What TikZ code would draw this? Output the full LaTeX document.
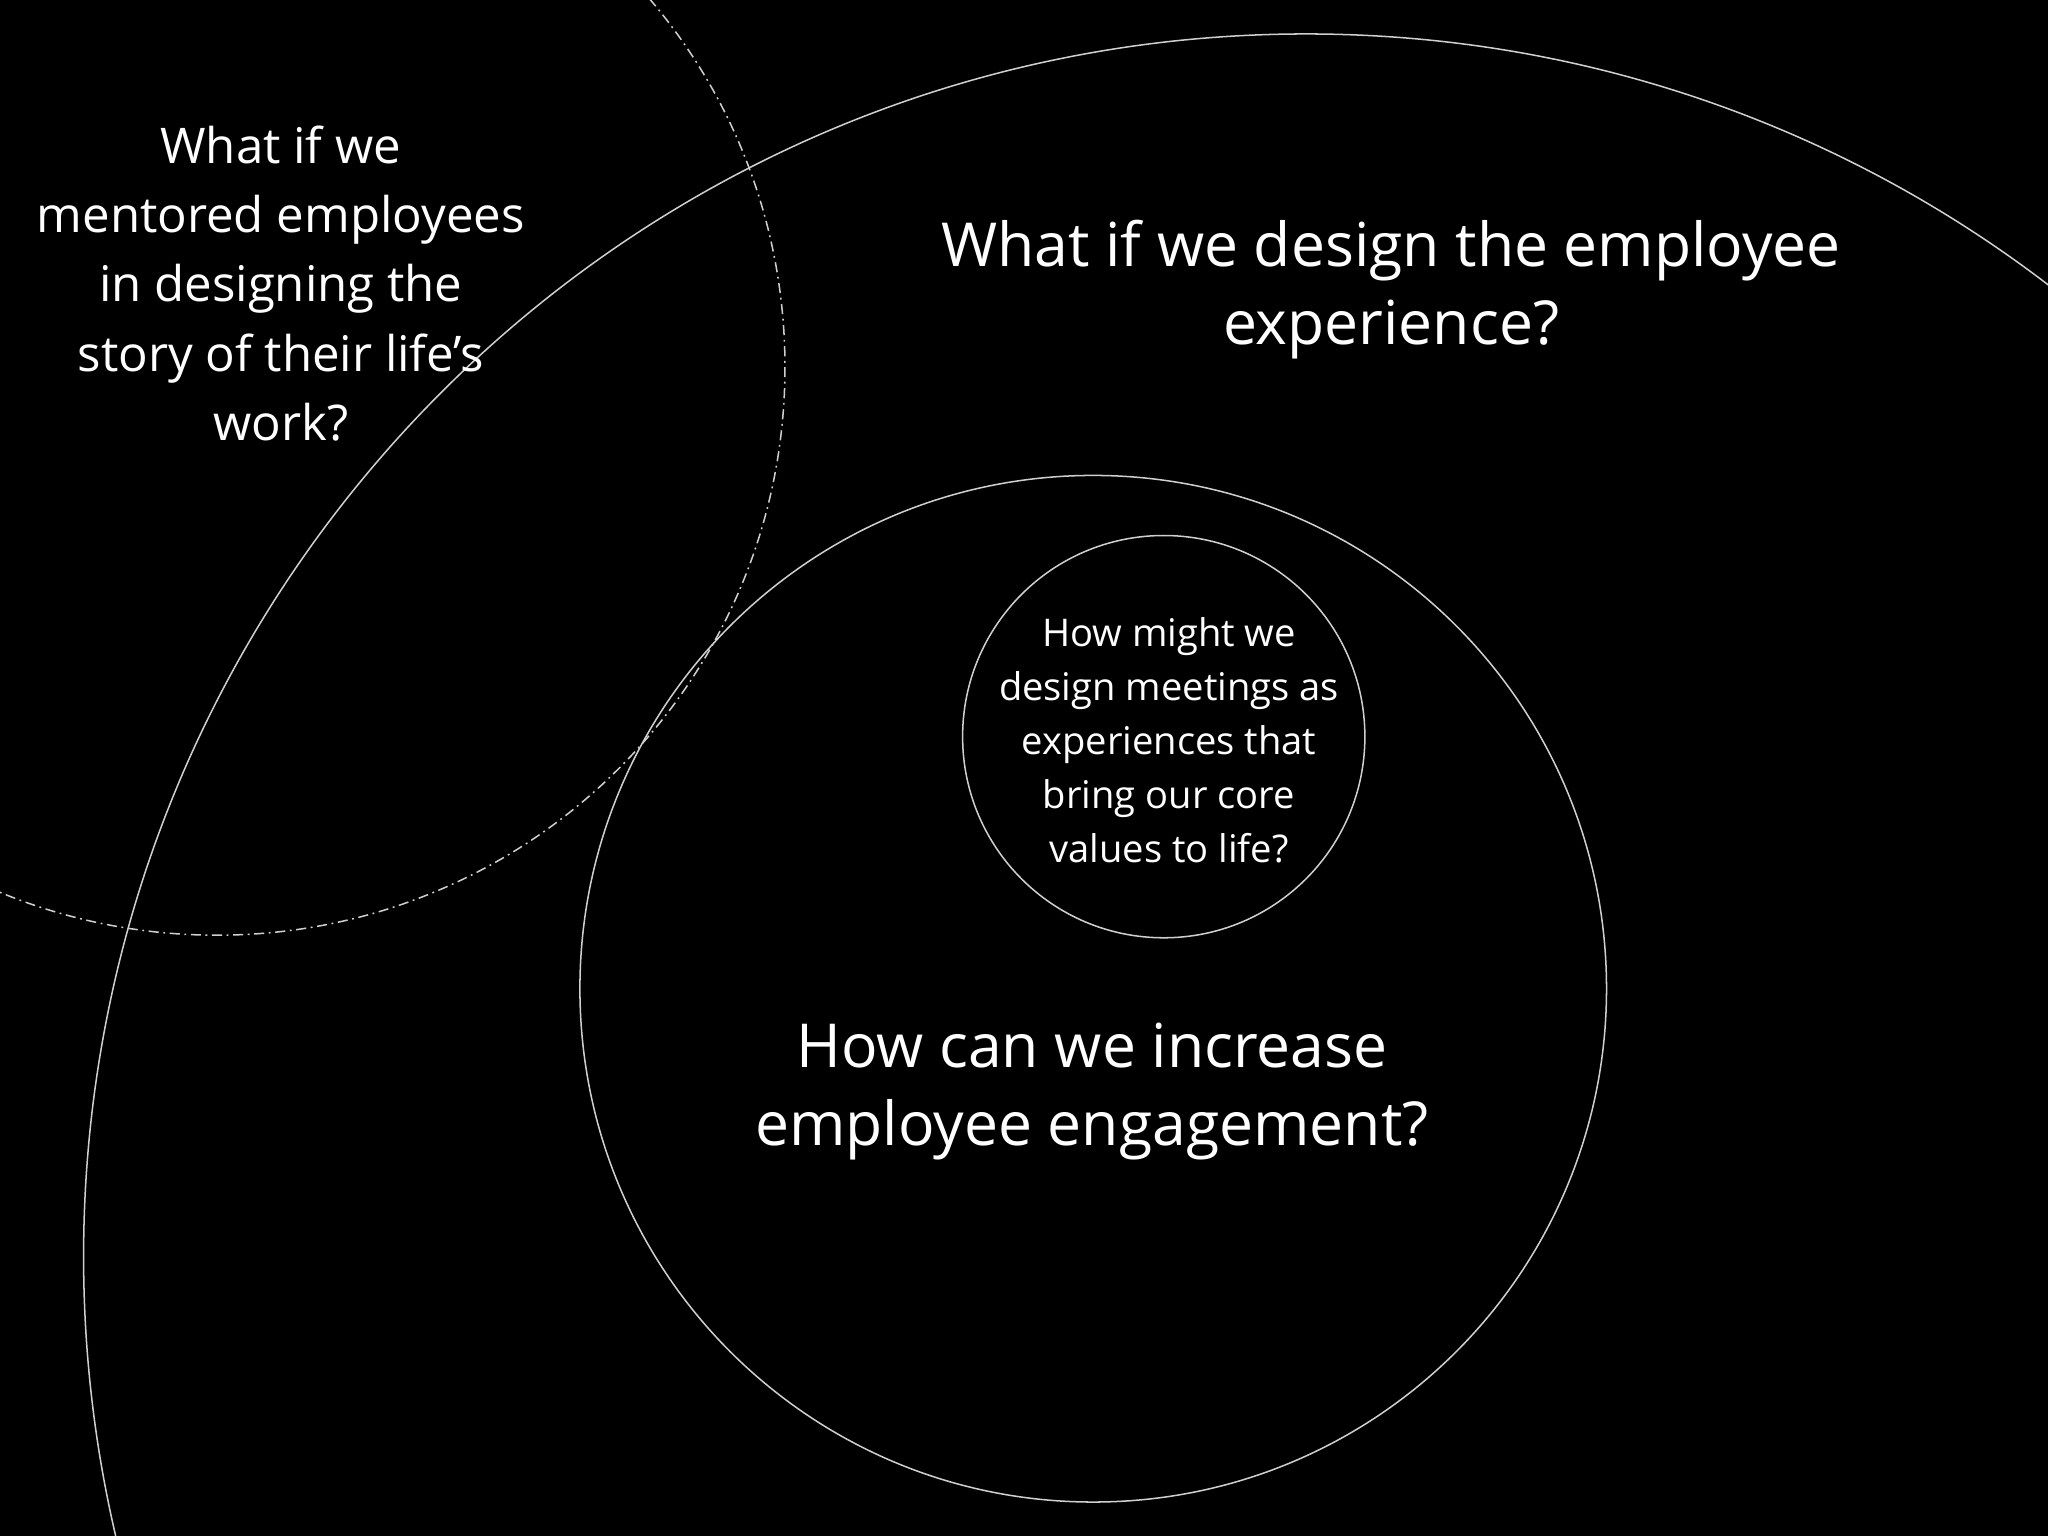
\documentclass[tikz,border=0pt]{standalone}
\usepackage{fontspec}
\setmainfont{Open Sans}
\usepackage{tikz}
\usetikzlibrary{positioning}
\definecolor{ringgrey}{HTML}{CFCFCF}

\begin{document}
\begin{tikzpicture}[
  x=0.01cm, y=-0.01cm,
  ring/.style={draw=ringgrey, line width=0.33pt},
  dashring/.style={draw=ringgrey, line width=0.33pt, dash pattern=on 2.2pt off 1pt on 0.4pt off 1pt},
  bigq/.style={text=white, align=center, inner sep=0pt, font=\fontsize{13.2}{17}\selectfont},
  midq/.style={text=white, align=center, inner sep=0pt, font=\fontsize{10.7}{15.1}\selectfont},
  smallq/.style={text=white, align=center, inner sep=0pt, font=\fontsize{8.3}{11.75}\selectfont}
]
  \fill[black] (0,0) rectangle (1568,1176);
  \useasboundingbox (0,0) rectangle (1568,1176);
  \clip (0,0) rectangle (1568,1176);

  \draw[ring] (1000,962) circle[radius=936];
  \draw[dashring] (166,281) circle[radius=435];
  \draw[ring] (837,757) circle[radius=393];
  \draw[ring] (891,564) circle[radius=154];

  \node[midq] (mentor) at (215,217) {What if we\\mentored employees\\in designing the\\story of their life’s\\work?};
  \node[bigq] (experience) at (1065,222) {What if we design the employee\\experience?};
  \node[smallq] (meetings) at (895,567) {How might we\\design meetings as\\experiences that\\bring our core\\values to life?};
  \node[bigq] (engagement) at (836,836) {How can we increase\\employee engagement?};
\end{tikzpicture}
\end{document}
